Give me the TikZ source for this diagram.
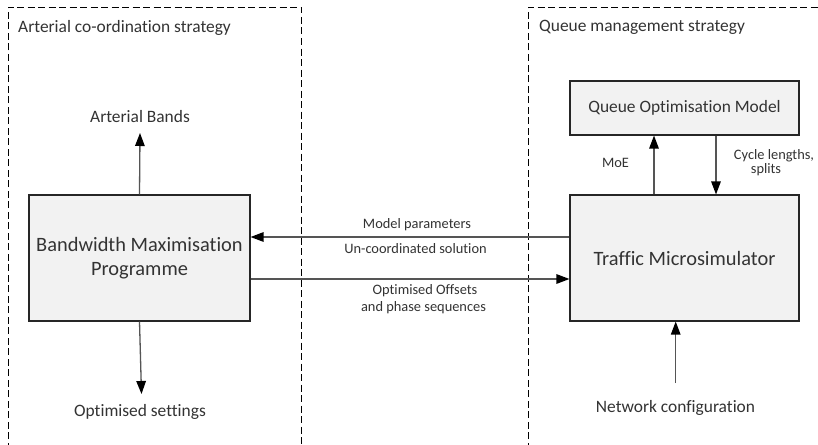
\documentclass[tikz,border=0pt]{standalone}
\usepackage{fontspec}
\setmainfont{Carlito}[Ligatures=NoCommon]
\usetikzlibrary{arrows.meta}
\definecolor{txt}{HTML}{333333}
\definecolor{boxfill}{HTML}{F2F2F2}
\definecolor{edge}{HTML}{262626}
\definecolor{conn}{HTML}{555555}
\tikzset{
  frame/.style={draw=black, line width=0.9pt, dash pattern=on 7pt off 3.5pt},
  procbox/.style={draw=edge, line width=1.1pt, fill=boxfill, text=txt, align=center, inner sep=0pt},
  lbl/.style={text=txt, inner sep=0pt, font=\fontsize{14.4}{17}\selectfont},
  biglbl/.style={text=txt, inner sep=0pt, font=\fontsize{17.4}{21}\selectfont},
  arr/.style={draw=conn, line width=1.3pt, -{Triangle[length=13pt,width=9.5pt,color=black]}},
}
\begin{document}
\begin{tikzpicture}[x=1pt,y=-1pt]
\useasboundingbox (0,0) rectangle (818,444);
\fill[white] (0,0) rectangle (818,444);
\begin{scope}
\clip (0,0) rectangle (818,444);
\draw[frame] (8,460) -- (8,7) -- (301,7) -- (301,460);
\draw[frame] (528.5,460) -- (528.5,7) -- (830,7);
\end{scope}

\node[biglbl, anchor=base west] (t1) at (18,33) {Arterial co-ordination strategy};
\node[biglbl, anchor=base west] (t2) at (539,31.7) {Queue management strategy};

\node[procbox, minimum width=221pt, minimum height=126pt, font=\fontsize{20.4}{23.5}\selectfont] (bmp) at (139.5,258) {Bandwidth Maximisation\\Programme};
\node[procbox, minimum width=229pt, minimum height=126pt, font=\fontsize{20.4}{23.5}\selectfont] (tm) at (684.5,258) {Traffic Microsimulator};
\node[procbox, minimum width=229pt, minimum height=54pt, font=\fontsize{17.4}{21}\selectfont] (qom) at (684.5,108) {Queue Optimisation Model};

\node[biglbl, anchor=base] (bands) at (140,122.5) {Arterial Bands};
\coordinate (bandsend) at (140,133);
\draw[arr] (bmp.north) -- (bandsend);

\node[biglbl, anchor=base] (opt) at (140,416.5) {Optimised settings};
\coordinate (optend) at (141.5,394);
\draw[arr] (bmp.south) -- (optend);

\draw[arr] (tm.west |- 0,237) -- (bmp.east |- 0,237);
\draw[arr] (bmp.east |- 0,279) -- (tm.west |- 0,279);
\node[lbl, anchor=base] (mp) at (417,228.3) {Model parameters};
\node[lbl, anchor=base] (ucs) at (415.5,253) {Un-coordinated solution};
\node[lbl, anchor=base] (oo) at (425,294) {Optimised Offsets};
\node[lbl, anchor=base] (aps) at (423.5,311.7) {and phase sequences};

\draw[arr] (tm.north -| 654,0) -- (qom.south -| 654,0);
\draw[arr] (qom.south -| 716,0) -- (tm.north -| 716,0);
\node[lbl, anchor=base] (moe) at (615.5,167.5) {MoE};
\node[lbl, anchor=base] (cl) at (774,159) {Cycle lengths,};
\node[lbl, anchor=base] (sp) at (766,173.5) {splits};

\node[biglbl, anchor=base] (net) at (675.5,412.7) {Network configuration};
\coordinate (netstart) at (675.7,383);
\draw[arr] (netstart) -- (tm.south -| 675.7,0);
\end{tikzpicture}
\end{document}
